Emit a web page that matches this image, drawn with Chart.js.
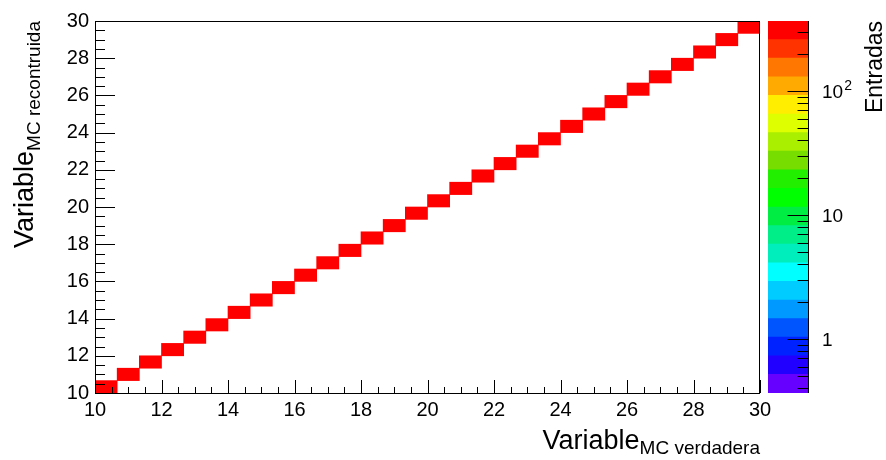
<!DOCTYPE html>
<html>
<head>
<meta charset="utf-8">
<script src="https://cdn.jsdelivr.net/npm/chart.js@4"></script>
<style>
  html, body { margin: 0; padding: 0; background: #fff; }
  #wrap { position: relative; width: 886px; height: 460px; }
  #wrap canvas { position: absolute; top: 0; }
  #main { left: 0; width: 886px; height: 460px; }
  #palette { left: 768px; width: 118px; height: 460px; }
</style>
</head>
<body>
<div id="wrap">
  <canvas id="main" width="886" height="460"></canvas>
  <canvas id="palette" width="118" height="460"></canvas>
</div>
<script>
// 30x30 binning, 10..30 on both axes
const binEdges = [10, 10.6667, 11.3333, 12, 12.6667, 13.3333, 14, 14.6667, 15.3333, 16,
  16.6667, 17.3333, 18, 18.6667, 19.3333, 20, 20.6667, 21.3333, 22, 22.6667, 23.3333,
  24, 24.6667, 25.3333, 26, 26.6667, 27.3333, 28, 28.6667, 29.3333, 30];

// filled cells: true bin, reconstructed bin, entries
const trueBin = [0, 1, 2, 3, 4, 5, 6, 7, 8, 9, 10, 11, 12, 13, 14, 15, 16, 17, 18, 19, 20, 21, 22, 23, 24, 25, 26, 27, 28, 29];
const recoBin = [0, 1, 2, 3, 4, 5, 6, 7, 8, 9, 10, 11, 12, 13, 14, 15, 16, 17, 18, 19, 20, 21, 22, 23, 24, 25, 26, 27, 28, 29];
const entries = [333, 333, 333, 333, 333, 333, 333, 333, 333, 333, 333, 333, 333, 333, 333,
  333, 333, 333, 333, 333, 333, 333, 333, 333, 333, 333, 333, 333, 333, 333];

const axisTicks = [10, 12, 14, 16, 18, 20, 22, 24, 26, 28, 30];
const zRange = [0.367, 367];
const zMajor = [1, 10, 100];
const zLabels = [['1', ''], ['10', ''], ['10', '2']];
const zMinor = [0.4, 0.5, 0.6, 0.7, 0.8, 0.9, 2, 3, 4, 5, 6, 7, 8, 9, 20, 30, 40, 50, 60, 70, 80, 90, 200, 300];

// palette, bottom to top (20 contours)
const palette = ['#6600ff', '#2200ff', '#0022ff', '#0055ff', '#0099ff', '#00ccff', '#00ffff',
  '#00eebb', '#00ee88', '#00ee44', '#00ff00', '#22ee00', '#77dd00', '#aaee00', '#ddff00',
  '#ffee00', '#ffaa00', '#ff7700', '#ff3300', '#ff0000'];

const FONT = 'Liberation Sans';
const nCont = palette.length;
const lzMin = Math.log10(zRange[0]), lzMax = Math.log10(zRange[1]);

function colourFor(v) {
  let k = Math.floor(nCont * (Math.log10(v) - lzMin) / (lzMax - lzMin));
  k = Math.max(0, Math.min(nCont - 1, k));
  return palette[k];
}

const cells = entries.map((n, i) => ({
  x: (binEdges[trueBin[i]] + binEdges[trueBin[i] + 1]) / 2,
  y: [binEdges[recoBin[i]], binEdges[recoBin[i] + 1]],
  n: n
}));

function drawTitle(ctx, x, y, rotate, main, sub, mainSize, subSize, drop) {
  ctx.save();
  ctx.translate(x, y);
  if (rotate) ctx.rotate(-Math.PI / 2);
  ctx.fillStyle = '#000';
  ctx.textBaseline = 'alphabetic';
  ctx.textAlign = 'left';
  ctx.font = subSize + 'px ' + FONT;
  const subW = ctx.measureText(sub).width;
  ctx.font = mainSize + 'px ' + FONT;
  const mainW = ctx.measureText(main).width;
  ctx.fillText(main, -(mainW + subW), 0);
  ctx.font = subSize + 'px ' + FONT;
  ctx.fillText(sub, -subW, drop);
  ctx.restore();
}

// frame, inward ticks and axis titles
const frameAndTicks = {
  id: 'frameAndTicks',
  afterDraw(chart) {
    const {ctx, chartArea: a, scales} = chart;
    ctx.save();
    ctx.strokeStyle = '#000';
    ctx.lineWidth = 1;
    ctx.strokeRect(Math.round(a.left) + 0.5, Math.round(a.top) + 0.5,
      Math.round(a.right - a.left) - 1, Math.round(a.bottom - a.top));
    ctx.beginPath();
    for (let v = 10; v <= 30.001; v += 0.5) {
      const major = Math.abs(v / 2 - Math.round(v / 2)) < 1e-6;
      const px = Math.round(scales.x.getPixelForValue(v)) + 0.5;
      ctx.moveTo(px, a.bottom);
      ctx.lineTo(px, a.bottom - (major ? 13 : 6));
      const py = Math.round(scales.y.getPixelForValue(v)) + 0.5;
      ctx.moveTo(a.left, py);
      ctx.lineTo(a.left + (major ? 20 : 10), py);
    }
    ctx.stroke();
    ctx.restore();

    drawTitle(ctx, a.right, 449, false, 'Variable', 'MC verdadera', 27, 19, 5);
    drawTitle(ctx, 33, a.top, true, 'Variable', 'MC recontruida', 27, 19, 7);
  }
};

const tickFont = {family: FONT, size: 20};

new Chart(document.getElementById('main'), {
  type: 'bar',
  data: {
    datasets: [{
      data: cells,
      backgroundColor: c => colourFor(c.raw.n),
      borderWidth: 0,
      barPercentage: 1,
      categoryPercentage: 1
    }]
  },
  options: {
    responsive: false,
    animation: false,
    layout: {padding: {left: 0, top: 21, right: 126, bottom: 0}},
    plugins: {legend: {display: false}, tooltip: {enabled: false}},
    scales: {
      x: {
        type: 'linear', min: 10, max: 30, offset: false,
        afterBuildTicks: s => { s.ticks = axisTicks.map(v => ({value: v})); },
        afterFit: s => { s.height = 67; },
        grid: {display: false, drawTicks: false, offset: false},
        border: {display: false},
        ticks: {color: '#000', font: tickFont, padding: 5, maxRotation: 0, autoSkip: false}
      },
      y: {
        type: 'linear', min: 10, max: 30,
        afterBuildTicks: s => { s.ticks = axisTicks.map(v => ({value: v})); },
        afterFit: s => { s.width = 95; },
        grid: {display: false, drawTicks: false},
        border: {display: false},
        ticks: {color: '#000', font: tickFont, padding: 6, autoSkip: false}
      }
    }
  },
  plugins: [frameAndTicks]
});

// colour scale on the right
const levels = palette.map((c, k) => [
  Math.pow(10, lzMin + (lzMax - lzMin) * k / nCont),
  Math.pow(10, lzMin + (lzMax - lzMin) * (k + 1) / nCont)
]);

const paletteAxis = {
  id: 'paletteAxis',
  afterDraw(chart) {
    const {ctx, chartArea: a, scales} = chart;
    ctx.save();
    ctx.strokeStyle = '#000';
    ctx.lineWidth = 1;
    ctx.beginPath();
    const r = Math.round(a.right) - 0.5;
    ctx.moveTo(r, a.top);
    ctx.lineTo(r, a.bottom);
    zMajor.concat(zMinor).forEach(v => {
      const py = Math.round(scales.y.getPixelForValue(v)) + 0.5;
      ctx.moveTo(r, py);
      ctx.lineTo(r - (zMajor.includes(v) ? 21 : 11), py);
    });
    ctx.stroke();

    // decade labels, exponent raised
    ctx.fillStyle = '#000';
    ctx.textAlign = 'left';
    ctx.textBaseline = 'alphabetic';
    zMajor.forEach((v, i) => {
      const py = scales.y.getPixelForValue(v);
      const [base, exp] = zLabels[i];
      ctx.font = '19px ' + FONT;
      ctx.fillText(base, a.right + 13, py + 7);
      if (exp) {
        const w = ctx.measureText(base).width;
        ctx.font = '14px ' + FONT;
        ctx.fillText(exp, a.right + 13 + w + 1, py - 1);
      }
    });

    ctx.translate(114, a.top);
    ctx.rotate(-Math.PI / 2);
    ctx.font = '23px ' + FONT;
    ctx.textAlign = 'right';
    ctx.fillText('Entradas', 0, 0);
    ctx.restore();
  }
};

new Chart(document.getElementById('palette'), {
  type: 'bar',
  data: {
    labels: ['z'],
    datasets: levels.map((lv, k) => ({
      data: [lv],
      backgroundColor: palette[k],
      borderWidth: 0,
      grouped: false,
      barPercentage: 1,
      categoryPercentage: 1
    }))
  },
  options: {
    responsive: false,
    animation: false,
    layout: {padding: {left: 0, top: 21, right: 0, bottom: 67}},
    plugins: {legend: {display: false}, tooltip: {enabled: false}},
    scales: {
      x: {display: false},
      y: {
        type: 'logarithmic', position: 'right',
        min: zRange[0], max: zRange[1],
        afterBuildTicks: s => { s.ticks = zMajor.map(v => ({value: v})); },
        afterFit: s => { s.width = 77; },
        grid: {display: false, drawTicks: false},
        border: {display: false},
        ticks: {display: false}
      }
    }
  },
  plugins: [paletteAxis]
});
</script>
</body>
</html>
